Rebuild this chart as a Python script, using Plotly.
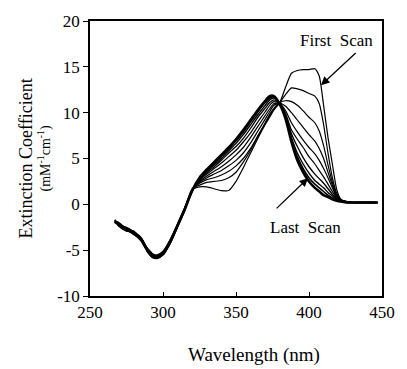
import plotly.graph_objects as go

wavelength = [267, 270, 275, 280, 285, 290, 293, 296, 300, 305, 310, 315,
              320, 325, 330, 335, 340, 345, 350, 355, 360, 365, 370, 373, 376, 380,
              384, 388, 392, 396, 400, 404, 407, 410, 413, 416, 419, 422, 426, 430, 435, 440, 447]

scan_1 = [-1.7, -2.3, -2.6, -3.2, -3.7, -5.0, -5.5, -5.5, -5.1, -3.8, -2.1, -0.3,
          1.6, 1.9, 1.9, 1.7, 1.5, 1.5, 2.5, 4.0, 5.6, 7.2, 8.7, 9.5, 10.3, 11.1,
          12.8, 14.3, 14.6, 14.7, 14.7, 14.8, 14.0, 10.8, 7.3, 4.4, 1.6, 0.5, 0.3, 0.2, 0.2, 0.25, 0.2]
scan_2 = [-1.9, -2.1, -2.8, -2.9, -3.9, -4.9, -5.4, -5.6, -5.2, -3.9, -2.2, -0.4,
          1.7, 2.1, 2.4, 2.5, 2.6, 2.9, 3.5, 4.6, 5.9, 7.4, 8.8, 9.7, 10.4, 11.1,
          12.0, 12.7, 12.6, 12.4, 12.1, 11.8, 11.0, 8.7, 5.6, 2.9, 1.2, 0.5, 0.3, 0.2, 0.15, 0.2, 0.2]
scan_3 = [-1.8, -2.4, -2.6, -3.0, -3.6, -5.1, -5.6, -5.6, -5.2, -3.9, -2.2, -0.4,
          1.6, 2.3, 2.7, 2.9, 3.2, 3.6, 4.2, 5.0, 6.1, 7.5, 8.9, 9.8, 10.5, 11.1,
          11.3, 11.2, 10.8, 10.2, 9.5, 8.9, 8.0, 6.4, 4.3, 2.4, 1.0, 0.45, 0.3, 0.2, 0.2, 0.2, 0.15]
scan_4 = [-2.0, -2.2, -2.9, -3.1, -3.8, -5.0, -5.6, -5.7, -5.3, -4.0, -2.3, -0.5,
          1.6, 2.4, 2.9, 3.3, 3.7, 4.2, 4.8, 5.6, 6.7, 8.0, 9.3, 10.1, 10.8, 11.05,
          10.7, 10.0, 9.2, 8.4, 7.6, 6.9, 6.1, 5.0, 3.5, 2.1, 0.9, 0.4, 0.25, 0.2, 0.25, 0.2, 0.2]
scan_5 = [-1.8, -2.0, -2.7, -3.3, -3.9, -5.2, -5.7, -5.7, -5.3, -4.0, -2.3, -0.4,
          1.6, 2.5, 3.1, 3.6, 4.1, 4.7, 5.4, 6.2, 7.3, 8.5, 9.7, 10.4, 11.0, 11.0,
          10.2, 8.9, 7.9, 7.0, 6.2, 5.5, 4.8, 3.9, 2.9, 1.8, 0.8, 0.4, 0.25, 0.2, 0.2, 0.15, 0.2]
scan_6 = [-1.9, -2.3, -2.5, -3.0, -3.7, -5.1, -5.6, -5.8, -5.4, -4.1, -2.3, -0.5,
          1.5, 2.6, 3.3, 3.9, 4.5, 5.2, 5.9, 6.8, 7.8, 9.0, 10.1, 10.8, 11.2, 11.0,
          9.9, 8.1, 7.1, 6.2, 5.2, 4.4, 3.7, 3.0, 2.2, 1.4, 0.7, 0.35, 0.25, 0.2, 0.2, 0.2, 0.2]
scan_7 = [-1.7, -2.2, -2.8, -3.2, -4.0, -5.3, -5.7, -5.8, -5.4, -4.1, -2.4, -0.5,
          1.5, 2.7, 3.45, 4.1, 4.8, 5.6, 6.3, 7.2, 8.3, 9.5, 10.5, 11.1, 11.4, 11.0,
          9.7, 7.7, 6.3, 5.1, 4.1, 3.3, 2.8, 2.3, 1.7, 1.1, 0.6, 0.35, 0.2, 0.2, 0.2, 0.2, 0.2]
scan_8 = [-2.0, -2.1, -2.7, -3.1, -3.8, -5.2, -5.8, -5.8, -5.5, -4.2, -2.4, -0.5,
          1.5, 2.75, 3.6, 4.3, 5.0, 5.85, 6.65, 7.6, 8.7, 9.8, 10.8, 11.4, 11.6, 11.0,
          9.5, 7.3, 5.6, 4.4, 3.4, 2.6, 2.2, 1.8, 1.3, 0.9, 0.5, 0.3, 0.2, 0.2, 0.2, 0.2, 0.2]
scan_9 = [-1.8, -2.4, -2.9, -3.0, -3.9, -5.3, -5.8, -5.9, -5.5, -4.2, -2.4, -0.6,
          1.5, 2.8, 3.7, 4.45, 5.2, 6.05, 6.9, 7.9, 9.0, 10.1, 11.1, 11.6, 11.7, 10.95,
          9.4, 7.0, 5.2, 3.9, 2.9, 2.2, 1.8, 1.4, 1.0, 0.7, 0.45, 0.3, 0.2, 0.2, 0.2, 0.2, 0.2]
scan_10 = [-1.9, -2.2, -2.7, -3.2, -3.8, -5.2, -5.7, -5.8, -5.4, -4.1, -2.3, -0.5,
           1.5, 2.9, 3.8, 4.6, 5.4, 6.2, 7.1, 8.1, 9.2, 10.3, 11.3, 11.8, 11.8, 10.9,
           9.3, 6.8, 4.8, 3.5, 2.5, 1.8, 1.4, 1.0, 0.8, 0.55, 0.4, 0.3, 0.2, 0.2, 0.2, 0.2, 0.2]

scans = [scan_1, scan_2, scan_3, scan_4, scan_5, scan_6, scan_7, scan_8, scan_9, scan_10]
widths = [1.2, 1.2, 1.2, 1.2, 1.2, 1.2, 1.3, 1.4, 1.6, 2.6]

x_ticks = [250, 300, 350, 400, 450]
y_ticks = [-10, -5, 0, 5, 10, 15, 20]
y_tick_labels = ["-10", "-5", "0", "5", "10", "15", "20"]

SERIF = "Liberation Serif"

fig = go.Figure()
for s, w in zip(scans, widths):
    fig.add_trace(go.Scatter(x=wavelength, y=s, mode="lines",
                             line=dict(color="black", width=w, shape="spline", smoothing=0.6),
                             showlegend=False, hoverinfo="skip"))

fig.update_layout(
    width=407, height=369,
    margin=dict(l=90, r=20, t=19, b=73),
    paper_bgcolor="white", plot_bgcolor="white",
    font=dict(family=SERIF, size=17, color="black"),
    xaxis=dict(range=[250, 450], tickvals=x_ticks, ticks="inside", ticklen=4,
               tickcolor="black", showgrid=False, zeroline=False,
               showline=True, linecolor="black", linewidth=1.5, mirror=True,
               tickfont=dict(family=SERIF, size=17, color="black")),
    yaxis=dict(range=[-10, 20], tickvals=y_ticks, ticktext=y_tick_labels,
               ticks="outside", ticklen=5, tickcolor="black", showgrid=False,
               zeroline=False, showline=True, linecolor="black", linewidth=1.5,
               mirror=True, tickfont=dict(family=SERIF, size=17, color="black")),
)

fig.add_annotation(text="Extinction Coefficient", xref="paper", yref="paper",
                   x=0, y=0.5, xshift=-65, textangle=-90, showarrow=False,
                   font=dict(family=SERIF, size=18, color="black"),
                   xanchor="center", yanchor="middle")
fig.add_annotation(text="(mM<sup>-1</sup>cm<sup>-1</sup>)", xref="paper", yref="paper",
                   x=0, y=0.5, xshift=-45, textangle=-90, showarrow=False,
                   font=dict(family=SERIF, size=14, color="black"),
                   xanchor="center", yanchor="middle")
fig.add_annotation(text="Wavelength (nm)", xref="x", yref="paper", x=362, y=0,
                   yshift=-59, showarrow=False,
                   font=dict(family=SERIF, size=19, color="black"),
                   xanchor="center", yanchor="middle")

fig.add_annotation(text="First&nbsp;&nbsp;Scan", x=419, y=17.9, xref="x", yref="y",
                   showarrow=False, font=dict(family=SERIF, size=17, color="black"))
fig.add_annotation(text="", x=408.2, y=13.0, ax=433, ay=16.65, xref="x", yref="y",
                   axref="x", ayref="y", showarrow=True, arrowhead=2, arrowsize=1.3,
                   arrowwidth=1.3, arrowcolor="black")
fig.add_annotation(text="Last&nbsp;&nbsp;Scan", x=397.5, y=-2.5, xref="x", yref="y",
                   showarrow=False, font=dict(family=SERIF, size=17, color="black"))
fig.add_annotation(text="", x=399.3, y=2.85, ax=376.8, ay=-0.6, xref="x", yref="y",
                   axref="x", ayref="y", showarrow=True, arrowhead=2, arrowsize=1.3,
                   arrowwidth=1.3, arrowcolor="black")

fig.write_html("out.html")
